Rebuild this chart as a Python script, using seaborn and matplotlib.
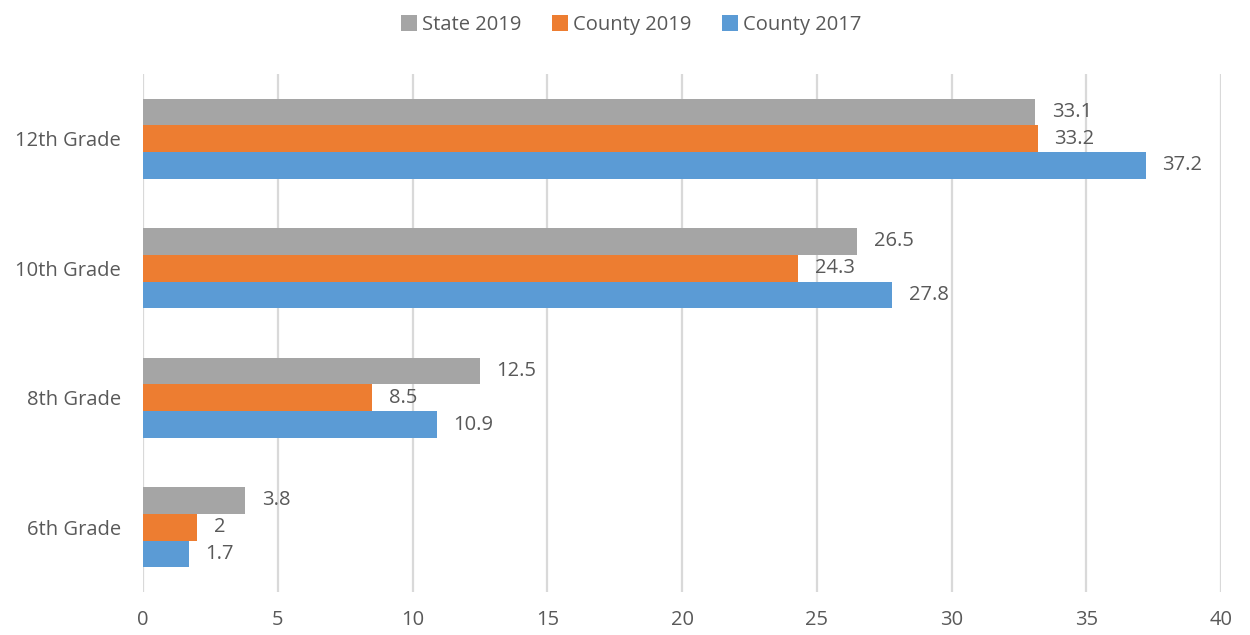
import pandas as pd
import matplotlib.pyplot as plt
import seaborn as sns

# Data
grades = ["12th Grade", "10th Grade", "8th Grade", "6th Grade"]
series = ["State 2019", "County 2019", "County 2017"]
state_2019 = [33.1, 26.5, 12.5, 3.8]
county_2019 = [33.2, 24.3, 8.5, 2]
county_2017 = [37.2, 27.8, 10.9, 1.7]
labels = {
    "State 2019": ["33.1", "26.5", "12.5", "3.8"],
    "County 2019": ["33.2", "24.3", "8.5", "2"],
    "County 2017": ["37.2", "27.8", "10.9", "1.7"],
}
colors = ["#A5A5A5", "#ED7D31", "#5B9BD5"]
x_ticks = [0, 5, 10, 15, 20, 25, 30, 35, 40]

df = pd.DataFrame({
    "grade": grades * 3,
    "series": [s for s in series for _ in grades],
    "value": state_2019 + county_2019 + county_2017,
})

sns.set_style("white")
plt.rcParams["font.family"] = ["Open Sans", "DejaVu Sans"]
text_color = "#595959"

fig = plt.figure(figsize=(12.5, 6.35), dpi=100)
ax = fig.add_axes([0.1144, 0.0677, 0.8624, 0.8158])

sns.barplot(data=df, y="grade", x="value", hue="series", order=grades,
            hue_order=series, palette=colors, orient="h", width=0.62,
            saturation=1, linewidth=0, ax=ax, legend=True)

# Etiquettes de valeurs
for container, name in zip(ax.containers, series):
    ax.bar_label(container, labels=labels[name], padding=12, fontsize=14.5,
                 color=text_color)

ax.set_xlim(0, 40)
ax.set_xticks(x_ticks)
ax.set_xticklabels([str(t) for t in x_ticks])
ax.grid(axis="x", color="#D9D9D9", linewidth=1.6)
ax.set_axisbelow(True)
for s in ax.spines.values():
    s.set_visible(False)
ax.tick_params(axis="both", length=0, labelsize=14.5, colors=text_color)
ax.tick_params(axis="x", pad=13)
ax.tick_params(axis="y", pad=16)
ax.set_xlabel("")
ax.set_ylabel("")

handles, lbls = ax.get_legend_handles_labels()
ax.legend(handles, lbls, loc="upper center", bbox_to_anchor=(0.505, 1.005),
          bbox_transform=fig.transFigure, ncol=3, frameon=False,
          fontsize=14.5, handlelength=0.8, handleheight=0.8,
          handletextpad=0.25, columnspacing=1.5, labelcolor=text_color)

fig.savefig("out.png", dpi=100)
